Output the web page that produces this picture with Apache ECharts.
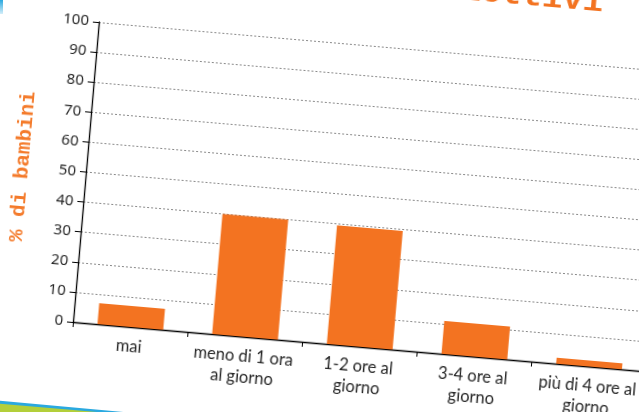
<!DOCTYPE html>
<html><head><meta charset="utf-8">
<script src="https://cdn.jsdelivr.net/npm/echarts@6/dist/echarts.min.js"></script>
<style>
html,body{margin:0;padding:0;width:639px;height:412px;overflow:hidden;background:#fff;}
#bg{position:absolute;left:0;top:0;width:639px;height:412px;}
#chart{position:absolute;left:-20px;top:-60px;width:720px;height:480px;transform-origin:93px 382px;transform:rotate(4.93deg);}
</style></head><body>
<div id="bg"></div><div id="chart"></div>
<script>
// ---- data ----
const categories = ['mai', 'meno di 1 ora\nal giorno', '1-2 ore al\ngiorno', '3-4 ore al\ngiorno', 'più di 4 ore al\ngiorno'];
const values = [7, 40, 39.5, 11, 2];
const yMin = 0, yMax = 100, yInterval = 10;
const titleText = 'Obiettivi';
const yAxisName = '% di bambini';

const ORANGE = '#F37321';

// background decorations (unrotated slide)
const bg = echarts.init(document.getElementById('bg'));
bg.setOption({
  graphic: [
    { type: 'polygon', shape: { points: [[0, 400.7], [123.3, 412], [0, 412]] }, style: { fill: '#2AA9E0' } },
    { type: 'polygon', shape: { points: [[0, 403.7], [96.7, 412], [0, 412]] }, style: { fill: '#B3CF3A' } },
    { type: 'rect', shape: { x: 0, y: 0, width: 3, height: 14 },
      style: { fill: new echarts.graphic.LinearGradient(0, 0, 0, 1, [{ offset: 0, color: '#2AA9E0' }, { offset: 1, color: 'rgba(42,169,224,0.2)' }]) } }
  ]
});

const chart = echarts.init(document.getElementById('chart'));
chart.setOption({
  animation: false,
  grid: { left: 93, top: 81, width: 575.5, height: 301 },
  graphic: [
    { type: 'text', x: 594, y: 18,
      style: { text: titleText, fill: ORANGE, font: 'bold 34px "Liberation Mono"', textAlign: 'right', textVerticalAlign: 'middle' } }
  ],
  xAxis: {
    type: 'category',
    data: categories,
    axisLine: { lineStyle: { color: '#000', width: 1.3 } },
    axisTick: { show: true, length: 5, lineStyle: { color: '#000' } },
    axisLabel: { interval: 0, margin: 9, fontSize: 16.5, lineHeight: 21, color: '#262626', fontFamily: 'Lato' }
  },
  yAxis: {
    type: 'value',
    min: yMin, max: yMax, interval: yInterval,
    name: yAxisName,
    nameLocation: 'middle',
    nameRotate: 90,
    nameGap: 53,
    nameTextStyle: { color: '#F47A2A', fontFamily: '"Liberation Mono"', fontSize: 21, fontWeight: 'bold' },
    axisLine: { show: true, lineStyle: { color: '#000', width: 1.3 } },
    axisTick: { show: true, length: 6, lineStyle: { color: '#000' } },
    axisLabel: { margin: 10, fontSize: 15, color: '#262626', fontFamily: '"Noto Sans"' },
    splitLine: { show: true, lineStyle: { color: '#8a8a8a', type: [2, 2], width: 1 } }
  },
  series: [{
    type: 'bar',
    data: values,
    barWidth: 66,
    itemStyle: { color: ORANGE }
  }]
});
</script>
</body></html>
